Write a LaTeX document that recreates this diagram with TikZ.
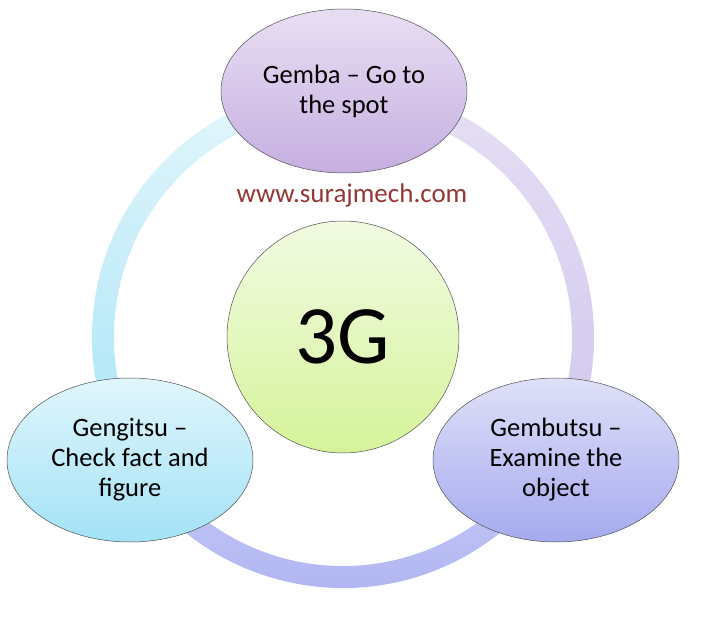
\documentclass[tikz,border=0pt]{standalone}
\usepackage{fontspec}
\setmainfont{Carlito}
\usetikzlibrary{shapes.geometric}

\definecolor{urlRed}{HTML}{953734}
\definecolor{edgeGray}{HTML}{505050}
% ring colours
\definecolor{ringCyanTop}{HTML}{E3F6FC}
\definecolor{ringCyanBot}{HTML}{A9E4F7}
\definecolor{ringLilacTop}{HTML}{E6DFF4}
\definecolor{ringLilacBot}{HTML}{D0C6EE}
\definecolor{ringBlueTop}{HTML}{C8CCF6}
\definecolor{ringBlueBot}{HTML}{ABB0F1}
% node colours
\definecolor{gembaTop}{HTML}{E8DEF3}
\definecolor{gembaBot}{HTML}{C6AFE1}
\definecolor{gengitsuTop}{HTML}{E0F6FC}
\definecolor{gengitsuBot}{HTML}{A3E2F6}
\definecolor{gembutsuTop}{HTML}{DFE0F8}
\definecolor{gembutsuBot}{HTML}{A5AAEF}
\definecolor{hubTop}{HTML}{F2FBE3}
\definecolor{hubBot}{HTML}{D5F39A}

\begin{document}
\begin{tikzpicture}[x=1pt, y=1pt,
    petal/.style={ellipse, draw=edgeGray, line width=0.5pt, minimum width=246pt,
        minimum height=164pt, inner sep=0pt, align=center,
        font=\fontsize{26.5}{30}\selectfont},
    hubnode/.style={circle, draw=edgeGray, line width=0.5pt, minimum size=232pt,
        inner sep=0pt, font=\fontsize{83}{90}\selectfont}]
    % --- Configuration ---
    \def\rOut{251}    % outer radius of the ring
    \def\rIn{229}     % inner radius of the ring

    \useasboundingbox (-343, 337) rectangle (370, -290);

    % --- Ring (three shaded arcs) ---
    \shade[top color=ringCyanTop, bottom color=ringCyanBot]
        (90:\rOut) arc[start angle=90, end angle=210, radius=\rOut]
        -- (210:\rIn) arc[start angle=210, end angle=90, radius=\rIn] -- cycle;
    \shade[top color=ringBlueTop, bottom color=ringBlueBot]
        (210:\rOut) arc[start angle=210, end angle=330, radius=\rOut]
        -- (330:\rIn) arc[start angle=330, end angle=210, radius=\rIn] -- cycle;
    \shade[top color=ringLilacTop, bottom color=ringLilacBot]
        (-30:\rOut) arc[start angle=-30, end angle=90, radius=\rOut]
        -- (90:\rIn) arc[start angle=90, end angle=-30, radius=\rIn] -- cycle;

    % --- Centre ---
    \node[hubnode, top color=hubTop, bottom color=hubBot] (hub) at (0, 0) {3G};
    \node[text=urlRed, font=\fontsize{27}{30}\selectfont] (url) at (9, 142) {www.surajmech.com};

    % --- The three G ---
    \node[petal, top color=gembaTop, bottom color=gembaBot] (gemba) at (1, 246)
        {Gemba -- Go to\\the spot};
    \node[petal, top color=gengitsuTop, bottom color=gengitsuBot] (gengitsu) at (-213, -123)
        {Gengitsu --\\Check fact and\\figure};
    \node[petal, top color=gembutsuTop, bottom color=gembutsuBot] (gembutsu) at (213, -123)
        {Gembutsu --\\Examine the\\object};
\end{tikzpicture}
\end{document}
